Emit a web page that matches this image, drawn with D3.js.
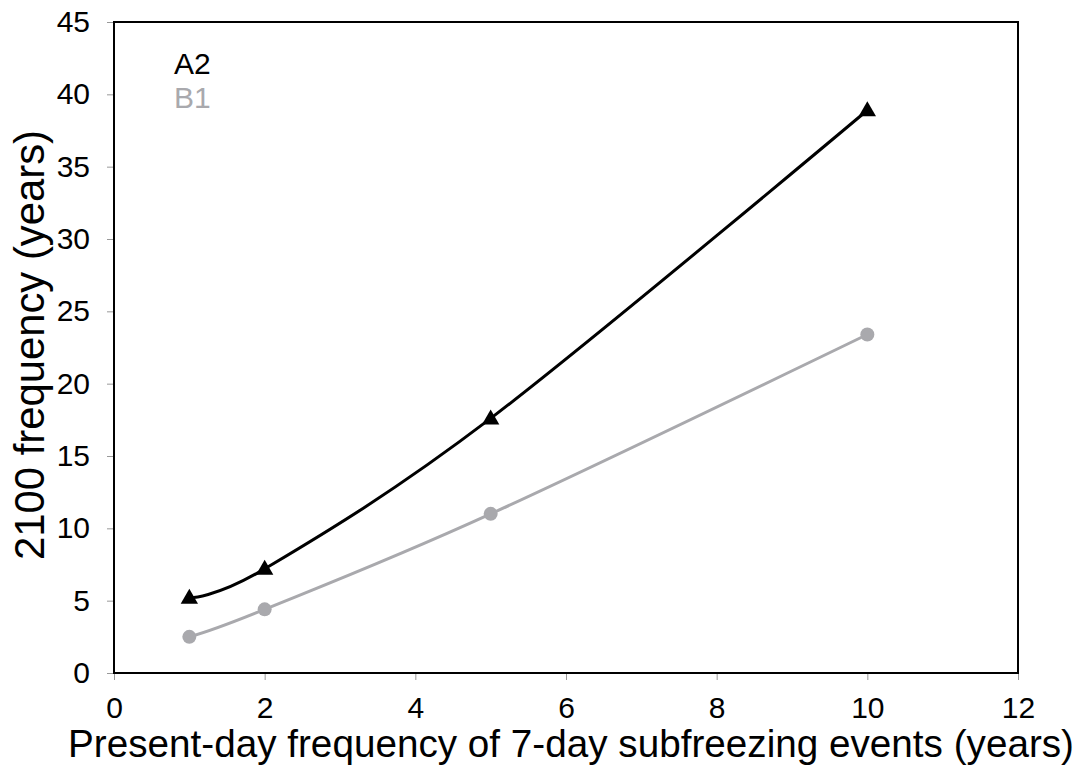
<!DOCTYPE html>
<html>
<head>
<meta charset="utf-8">
<script src="https://cdn.jsdelivr.net/npm/d3@7"></script>
<style>
  body { margin: 0; background: #fff; }
  text { font-family: "Liberation Sans", Arial, sans-serif; }
</style>
</head>
<body>
<svg id="chart" width="1084" height="774"></svg>
<script>
// data
var presentFreq = [1, 2, 5, 10];
var a2Values = [5.2, 7.2, 17.6, 38.9];
var b1Values = [2.5, 4.4, 11.0, 23.4];
var xTicks = [0, 2, 4, 6, 8, 10, 12];
var yTicks = [0, 5, 10, 15, 20, 25, 30, 35, 40, 45];

var svg = d3.select("#chart");
var margin = { left: 114, top: 22, right: 66, bottom: 101 };
var width = 1084 - margin.left - margin.right,
    height = 774 - margin.top - margin.bottom;

var x = d3.scaleLinear().domain([0, 12]).range([0, width]);
var y = d3.scaleLinear().domain([0, 45]).range([height, 0]);

var g = svg.append("g")
  .attr("transform", "translate(" + margin.left + "," + margin.top + ")");

// axes
var xAxis = g.append("g")
  .attr("transform", "translate(0," + height + ")")
  .call(d3.axisBottom(x).tickValues(xTicks).tickSize(7).tickPadding(17));
var yAxis = g.append("g")
  .call(d3.axisLeft(y).tickValues(yTicks).tickSize(7).tickPadding(17));

[xAxis, yAxis].forEach(function (a) {
  a.select(".domain").remove();
  a.selectAll(".tick line").attr("stroke", "#999").attr("stroke-width", 1);
  a.selectAll(".tick text")
    .attr("font-size", "30px")
    .attr("fill", "#000")
    .style("font-family", "'Liberation Sans', Arial, sans-serif");
});

// frame
g.append("rect")
  .attr("width", width)
  .attr("height", height)
  .attr("fill", "none")
  .attr("stroke", "#000")
  .attr("stroke-width", 2);

var line = d3.line()
  .x(function (d) { return x(d[0]); })
  .y(function (d) { return y(d[1]); })
  .curve(d3.curveCardinal.tension(0));

var a2 = presentFreq.map(function (v, i) { return [v, a2Values[i]]; });
var b1 = presentFreq.map(function (v, i) { return [v, b1Values[i]]; });

var grey = "#a9a9ad";

g.append("path")
  .datum(b1)
  .attr("d", line)
  .attr("fill", "none")
  .attr("stroke", grey)
  .attr("stroke-width", 3);

g.selectAll(".b1pt")
  .data(b1)
  .enter().append("circle")
  .attr("class", "b1pt")
  .attr("cx", function (d) { return x(d[0]); })
  .attr("cy", function (d) { return y(d[1]); })
  .attr("r", 7)
  .attr("fill", grey);

g.append("path")
  .datum(a2)
  .attr("d", line)
  .attr("fill", "none")
  .attr("stroke", "#000")
  .attr("stroke-width", 3);

var tri = d3.symbol().type(d3.symbolTriangle).size(130);
g.selectAll(".a2pt")
  .data(a2)
  .enter().append("path")
  .attr("class", "a2pt")
  .attr("d", tri)
  .attr("transform", function (d) {
    return "translate(" + x(d[0]) + "," + (y(d[1]) + 1) + ")";
  })
  .attr("fill", "#000");

// legend
g.append("text")
  .attr("x", 60).attr("y", 52)
  .attr("font-size", "30px")
  .attr("fill", "#000")
  .text("A2");
g.append("text")
  .attr("x", 60).attr("y", 86)
  .attr("font-size", "30px")
  .attr("fill", grey)
  .text("B1");

// axis titles
svg.append("text")
  .attr("x", 571)
  .attr("y", 757)
  .attr("text-anchor", "middle")
  .attr("font-size", "39px")
  .attr("textLength", 1006)
  .attr("lengthAdjust", "spacingAndGlyphs")
  .text("Present-day frequency of 7-day subfreezing events (years)");

svg.append("text")
  .attr("transform", "translate(44,345) rotate(-90)")
  .attr("text-anchor", "middle")
  .attr("font-size", "42px")
  .attr("textLength", 430)
  .attr("lengthAdjust", "spacingAndGlyphs")
  .text("2100 frequency (years)");
</script>
</body>
</html>
